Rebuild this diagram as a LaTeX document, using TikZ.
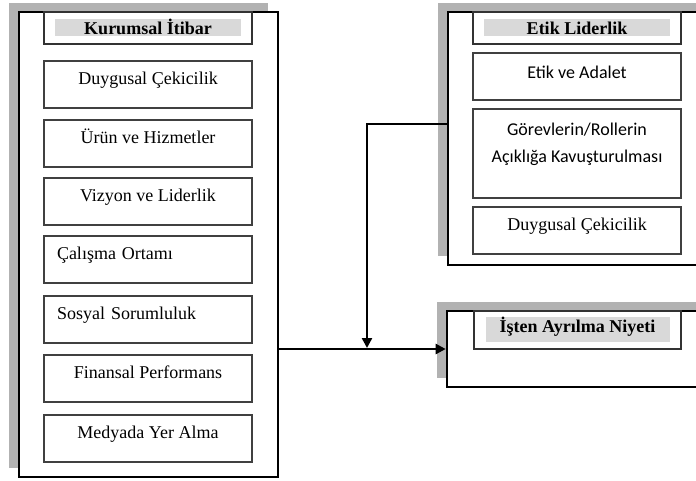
\documentclass[tikz,border=0pt]{standalone}
\usepackage{fontspec}
\setmainfont{Liberation Serif}
\newfontfamily\calfont{Carlito}
\usetikzlibrary{arrows.meta,shadows}
\tikzset{
  outer/.style={draw=black,line width=2.6pt,fill=white,inner sep=0pt,
    drop shadow={shadow xshift=-10pt,shadow yshift=9pt,fill=black!30,opacity=1}},
  titlebox/.style={draw=black!80,line width=1.3pt,fill=white,inner sep=0pt,minimum width=208pt},
  titlefill/.style={fill=black!15,inner sep=0pt,text height=16pt,
    font=\fontsize{18}{22}\selectfont\bfseries},
  itemc/.style={draw=black!75,line width=1.3pt,fill=white,inner sep=0pt,minimum width=208pt,
    text height=23pt,text depth=24pt,font=\fontsize{18}{22}\selectfont},
  iteml/.style={itemc,text width=182pt,align=left,inner xsep=13pt},
  cal/.style={font={\calfont\fontsize{18}{27}\selectfont}},
  conn/.style={line width=2.4pt,-{Triangle[length=10pt,width=10pt]}},
}
\begin{document}
\begin{tikzpicture}[x=1pt,y=-1pt]
  \useasboundingbox (0,0) rectangle (696,480);
  \fill[white] (0,0) rectangle (696,480);
  \clip (0,0) rectangle (696,480);
  % outer frames
  \node[outer,minimum width=259pt,minimum height=465pt] (itibar) at (148.5,244.5) {};
  \node[outer,minimum width=272pt,minimum height=253pt] (etik) at (584,138.5) {};
  \node[outer,minimum width=273pt,minimum height=76pt] (niyet) at (583.5,349) {};
  % titles
  \node[titlebox,minimum height=32pt] (itibarT) at (148,28) {};
  \node[titlefill,minimum width=186pt,text depth=1pt,anchor=north] (itibarL)
    at ([yshift=-7pt]itibarT.north) {Kurumsal İtibar};
  \node[titlebox,minimum height=32pt] (etikT) at (577,28) {};
  \node[titlefill,minimum width=186pt,text depth=1pt,anchor=north] (etikL)
    at ([yshift=-7pt]etikT.north) {Etik Liderlik};
  \node[titlebox,minimum width=207pt,minimum height=38pt] (niyetT) at (577.5,330) {};
  \node[titlefill,minimum width=184pt,text depth=9pt,anchor=north] (niyetL)
    at ([yshift=-6pt]niyetT.north) {İşten Ayrılma Niyeti};
  % dimensions of corporate reputation
  \foreach \yc/\sty/\txt [count=\i] in {84.5/itemc/Duygusal Çekicilik,
      143.5/itemc/Ürün ve Hizmetler, 201.5/itemc/Vizyon ve Liderlik,
      259.5/iteml/Çalışma Ortamı, 319.5/iteml/Sosyal Sorumluluk,
      378.5/itemc/Finansal Performans, 438.5/itemc/Medyada Yer Alma}
    \node[\sty] (ki\i) at (148,\yc) {\txt};
  % dimensions of ethical leadership
  \node[itemc,cal,text height=25pt,text depth=22pt] (el1) at (577,76.5) {Etik ve Adalet};
  \node[itemc,cal,align=center,text height=53pt,text depth=36pt] (el2) at (577,153.5)
    {Görevlerin/Rollerin\\Açıklığa Kavuşturulması};
  \node[itemc] (el3) at (577,230.5) {Duygusal Çekicilik};
  % connectors
  \coordinate (bend) at (367,124);
  \draw[conn] (itibar.east |- niyet.west) -- (niyet.west);
  \draw[conn,shorten >=1pt] (etik.west |- bend) -- (bend) -- (bend |- niyet.west);
\end{tikzpicture}
\end{document}
